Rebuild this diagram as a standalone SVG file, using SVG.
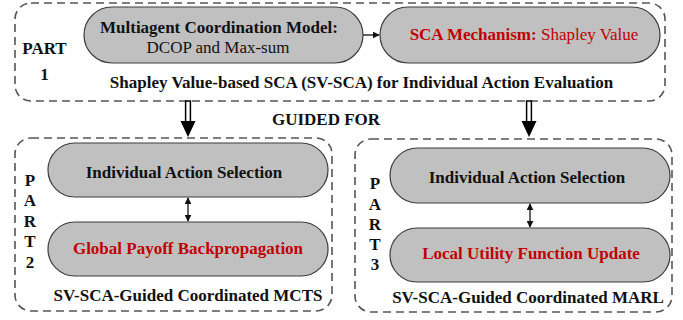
<svg xmlns="http://www.w3.org/2000/svg" width="683" height="320" viewBox="0 0 683 320">
<defs>
<style>
.box{fill:none;stroke:#555;stroke-width:1.6;stroke-dasharray:8 5}
.node{fill:#c0c0c0;stroke:#3c3c3c;stroke-width:1.2}
.t{font-family:"Liberation Serif","Times New Roman",serif;font-size:17px;fill:#111;text-anchor:middle}
.b{font-weight:bold}
.red{fill:#c00000}
.ln{stroke:#111;stroke-width:1.3;fill:none}
</style>
<marker id="ah" viewBox="0 0 10 10" refX="9" refY="5" markerWidth="7" markerHeight="7" markerUnits="userSpaceOnUse" orient="auto-start-reverse">
<path d="M0,0 L10,5 L0,10 z" fill="#111"/>
</marker>
</defs>
<rect width="683" height="320" fill="#fff"/>

<g id="part1">
<rect class="box" x="15" y="3" width="650" height="98" rx="16"/>
<text class="t b" x="44.5" y="54">PART</text>
<text class="t b" x="44.5" y="80">1</text>
<text class="t b" x="361.5" y="88">Shapley Value-based SCA (SV-SCA) for Individual Action Evaluation</text>
</g>
<g id="node-model">
<rect class="node" x="84" y="7" width="279" height="56" rx="28"/>
<text class="t b" x="219" y="33">Multiagent Coordination Model:</text>
<text class="t" x="218" y="53">DCOP and Max-sum</text>
</g>
<g id="node-sca">
<rect class="node" x="380" y="7" width="280" height="56" rx="28"/>
<text class="t red" x="524" y="40"><tspan class="b">SCA Mechanism:</tspan> Shapley Value</text>
</g>

<text class="t b" x="326" y="125">GUIDED FOR</text>

<g id="part2">
<rect class="box" x="15" y="138" width="317" height="173" rx="16"/>
<text class="t b" x="30" y="186">P</text>
<text class="t b" x="30" y="206">A</text>
<text class="t b" x="30" y="227">R</text>
<text class="t b" x="30" y="247">T</text>
<text class="t b" x="30" y="268">2</text>
<text class="t b" x="188" y="301">SV-SCA-Guided Coordinated MCTS</text>
</g>
<g id="node-p2-select">
<rect class="node" x="48" y="143" width="280" height="54" rx="27"/>
<text class="t b" x="184" y="178">Individual Action Selection</text>
</g>
<g id="node-p2-backprop">
<rect class="node" x="48" y="222" width="280" height="54" rx="27"/>
<text class="t b red" x="188" y="254">Global Payoff Backpropagation</text>
</g>

<g id="part3">
<rect class="box" x="355" y="139" width="317" height="173" rx="16"/>
<text class="t b" x="375" y="189">P</text>
<text class="t b" x="375" y="210">A</text>
<text class="t b" x="375" y="230">R</text>
<text class="t b" x="375" y="250">T</text>
<text class="t b" x="375" y="270">3</text>
<text class="t b" x="528" y="303">SV-SCA-Guided Coordinated MARL</text>
</g>
<g id="node-p3-select">
<rect class="node" x="390" y="148" width="280" height="55" rx="27.5"/>
<text class="t b" x="527" y="183">Individual Action Selection</text>
</g>
<g id="node-p3-update">
<rect class="node" x="390" y="228" width="280" height="54" rx="27"/>
<text class="t b red" x="531" y="259">Local Utility Function Update</text>
</g>

<g id="connectors">
<line class="ln" x1="363" y1="35" x2="379" y2="35" marker-end="url(#ah)"/>
<line class="ln" x1="188" y1="198" x2="188" y2="221" marker-start="url(#ah)" marker-end="url(#ah)"/>
<line class="ln" x1="530" y1="204" x2="530" y2="227" marker-start="url(#ah)" marker-end="url(#ah)"/>
<rect x="185.6" y="101" width="4.8" height="21" fill="#fff" stroke="#000" stroke-width="1.5"/>
<path d="M180.5,121 L195.5,121 L188,137 z" fill="#000"/>
<rect x="526.6" y="101" width="4.8" height="21" fill="#fff" stroke="#000" stroke-width="1.5"/>
<path d="M521.5,121 L536.5,121 L529,137 z" fill="#000"/>
</g>
</svg>
